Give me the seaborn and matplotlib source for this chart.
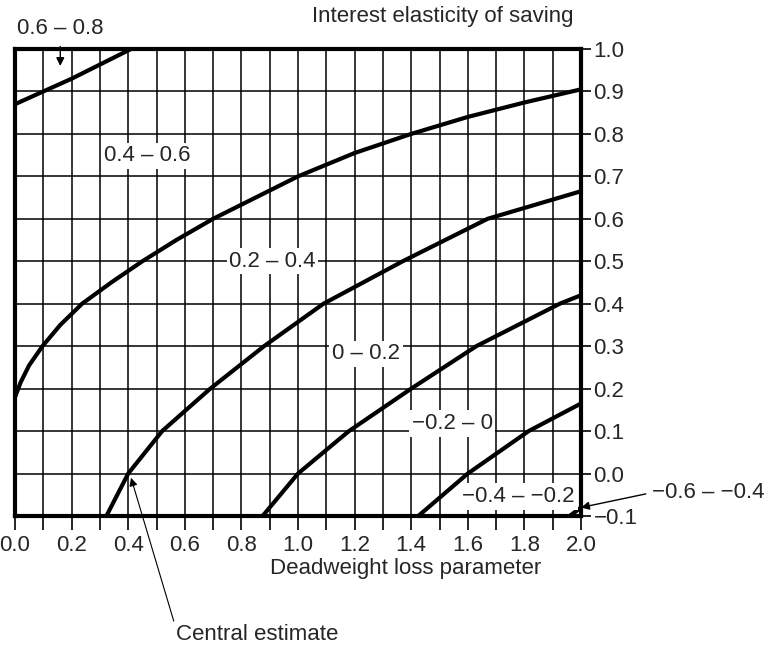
import numpy as np
import matplotlib
matplotlib.use("Agg")
import matplotlib.pyplot as plt
import seaborn as sns

# iso-lines of the welfare measure
# (deadweight loss parameter, interest elasticity of saving)
c06_x = [0.0, 0.2, 0.41]
c06_y = [0.87, 0.93, 1.0]

c04_x = [0.0, 0.02, 0.05, 0.097, 0.16, 0.237, 0.34, 0.45, 0.57, 0.70, 0.85, 1.0, 1.2, 1.4, 1.6, 1.8, 2.0]
c04_y = [0.18, 0.215, 0.255, 0.3, 0.35, 0.4, 0.45, 0.5, 0.55, 0.6, 0.65, 0.7, 0.755, 0.8, 0.84, 0.874, 0.905]

c02_x = [0.323, 0.4, 0.52, 0.69, 0.88, 1.09, 1.37, 1.67, 2.0]
c02_y = [-0.1, 0.0, 0.1, 0.2, 0.3, 0.4, 0.5, 0.6, 0.665]

c00_x = [0.875, 1.0, 1.18, 1.40, 1.63, 1.925, 2.0]
c00_y = [-0.1, 0.0, 0.1, 0.2, 0.3, 0.4, 0.42]

cm02_x = [1.425, 1.6, 1.815, 2.0]
cm02_y = [-0.1, 0.0, 0.1, 0.165]

cm04_x = [1.96, 2.0]
cm04_y = [-0.1, -0.08]

curves = [(c06_x, c06_y), (c04_x, c04_y), (c02_x, c02_y),
          (c00_x, c00_y), (cm02_x, cm02_y), (cm04_x, cm04_y)]

# region labels inside the plot
region_labels = ["0.4 \u2013 0.6", "0.2 \u2013 0.4", "0 \u2013 0.2",
                 "\u22120.2 \u2013 0", "\u22120.4 \u2013 \u22120.2"]
region_x = [0.467, 0.91, 1.24, 1.545, 1.78]
region_y = [0.748, 0.50, 0.282, 0.118, -0.054]

x_ticks = np.round(np.arange(0, 2.01, 0.2), 1)
x_minor = np.round(np.arange(0.1, 2.0, 0.2), 1)
y_ticks = np.round(np.arange(-0.1, 1.01, 0.1), 1)

sns.set_style("white")
plt.rcParams["font.family"] = ["Liberation Sans", "DejaVu Sans"]
fs = 16

fig = plt.figure(figsize=(7.66, 6.48), dpi=100)
ax = fig.add_axes([15 / 766, 1 - 516 / 648, 566 / 766, 467 / 648])

for cx, cy in curves:
    sns.lineplot(x=cx, y=cy, ax=ax, color="black", lw=3, sort=False,
                 estimator=None, zorder=3)
for ln in ax.get_lines():
    ln.set_solid_joinstyle("round")

ax.set_xlim(0, 2.0)
ax.set_ylim(-0.1, 1.0)

ax.set_xticks(x_ticks)
ax.set_xticks(x_minor, minor=True)
ax.set_xticklabels([f"{v:.1f}" for v in x_ticks], fontsize=fs)
ax.yaxis.tick_right()
ax.set_yticks(y_ticks)
ax.set_yticklabels([f"{v:.1f}".replace("-", "\u2212") for v in y_ticks], fontsize=fs)

ax.tick_params(axis="x", which="both", direction="out", length=10, width=1.2,
               color="black", pad=4, bottom=True)
ax.tick_params(axis="y", which="both", direction="out", length=7, width=1.2,
               color="black", pad=2, right=True, left=False)

ax.grid(which="both", color="black", lw=1.1)
ax.set_axisbelow(True)
for s in ax.spines.values():
    s.set_linewidth(3)
    s.set_color("black")

ax.set_xlabel("Deadweight loss parameter", fontsize=fs)
ax.xaxis.set_label_coords(0.69, -0.113)
ax.xaxis.label.set_va("center")
ax.text(0.755, 1.069, "Interest elasticity of saving", transform=ax.transAxes,
        ha="center", va="center", fontsize=fs)

for lab, lx, ly in zip(region_labels, region_x, region_y):
    ax.text(lx, ly, lab, ha="center", va="center", fontsize=fs, zorder=4,
            bbox=dict(facecolor="white", edgecolor="none", pad=2))

ax.annotate("0.6 \u2013 0.8", xy=(0.16, 0.96), xytext=(0.16, 1.048),
            ha="center", va="center", fontsize=fs, annotation_clip=False,
            arrowprops=dict(arrowstyle="-|>", color="black", lw=1.0,
                            mutation_scale=12, shrinkA=3, shrinkB=0))
ax.annotate("\u22120.6 \u2013 \u22120.4", xy=(2.0, -0.08), xytext=(2.25, -0.045),
            ha="left", va="center", fontsize=fs, annotation_clip=False,
            arrowprops=dict(arrowstyle="-|>", color="black", lw=1.0,
                            mutation_scale=12, shrinkA=2, shrinkB=0,
                            relpos=(0, 0.5)))
ax.annotate("Central estimate", xy=(0.41, -0.01), xytext=(0.57, -0.38),
            ha="left", va="center", fontsize=fs, annotation_clip=False,
            arrowprops=dict(arrowstyle="-|>", color="black", lw=0.8,
                            mutation_scale=12, shrinkA=0, shrinkB=0,
                            relpos=(0, 0.75)))

fig.savefig("out.png", dpi=100)
